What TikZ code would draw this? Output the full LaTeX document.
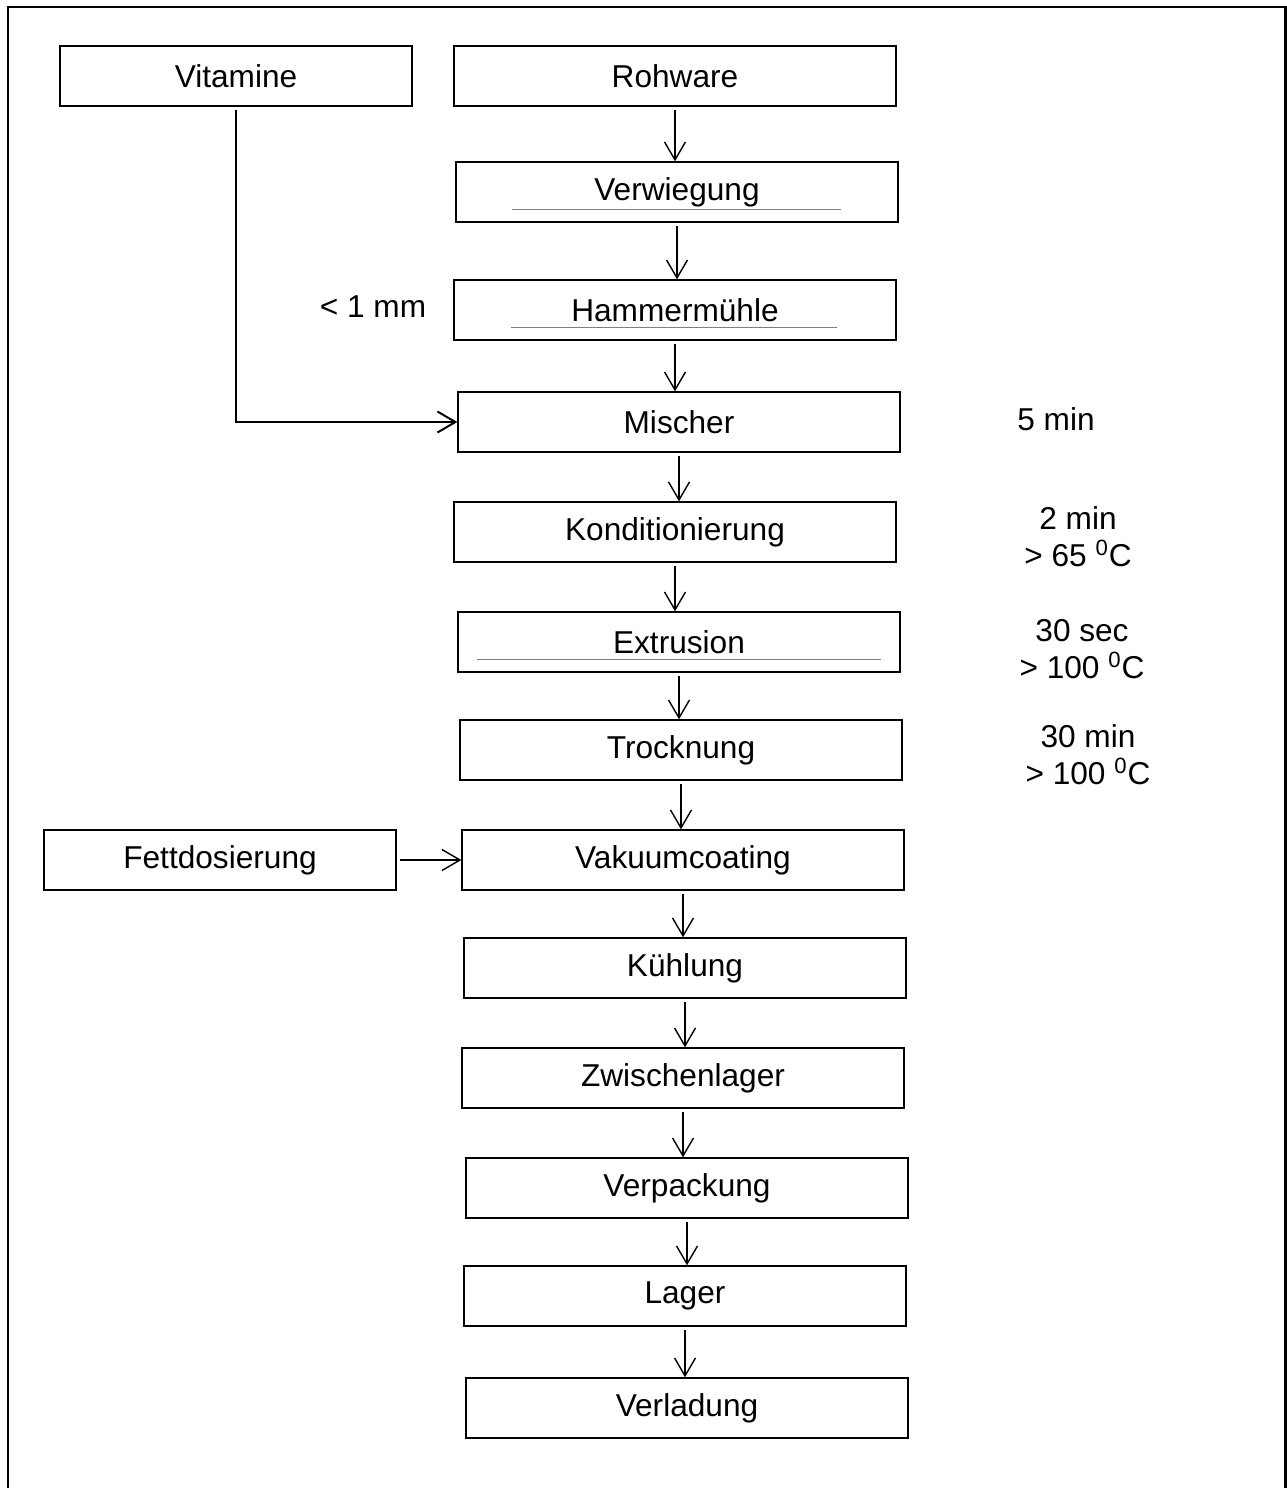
\documentclass[tikz,border=0pt]{standalone}
\usepackage{fontspec}
\setmainfont{Liberation Sans}
\usetikzlibrary{arrows.meta,calc}
\tikzset{
  stepbox/.style={draw,line width=0.8pt,minimum width=8.84cm,minimum height=1.2cm,inner sep=0pt,font=\fontsize{18}{21}\selectfont},
  sidebox/.style={stepbox,minimum width=7.04cm},
  note/.style={align=center,inner sep=0pt,font=\fontsize{18}{21}\selectfont},
  flow/.style={line width=0.8pt,shorten <=0.06cm,-{Straight Barb[length=3.6mm,width=4.2mm]}},
  thinrule/.style={gray,line width=0.5pt}
}
\begin{document}
\begin{tikzpicture}[x=0.02cm,y=-0.02cm]
  \useasboundingbox (0,0) rectangle (1287,1488);
  \draw[line width=1.7pt] (8,1488) -- (8,7) -- (1285,7) -- (1285,1488);

  % side inputs
  \node[sidebox] (vit) at (236,76) {Vitamine};
  \node[sidebox] (fett) at (220,860) {Fettdosierung};

  % main line
  \node[stepbox] (rohware) at (675,76) {Rohware};
  \node[stepbox] (verw) at (677,192) {Verwiegung};
  \node[stepbox] (hammer) at (675,310) {Hammermühle};
  \node[stepbox] (misch) at (679,422) {Mischer};
  \node[stepbox] (kond) at (675,532) {Konditionierung};
  \node[stepbox] (extr) at (679,642) {Extrusion};
  \node[stepbox] (trock) at (681,750) {Trocknung};
  \node[stepbox] (vak) at (683,860) {Vakuumcoating};
  \node[stepbox] (kuehl) at (685,968) {Kühlung};
  \node[stepbox] (zwisch) at (683,1078) {Zwischenlager};
  \node[stepbox] (verp) at (687,1188) {Verpackung};
  \node[stepbox] (lager) at (685,1296) {Lager};
  \node[stepbox] (verl) at (687,1408) {Verladung};

  % process notes
  \node[note] (mm) at (373,307) {< 1 mm};
  \node[note] (tmisch) at (1056,419) {5 min};
  \node[note] (tkond) at (1078,537) {2 min\\> 65 \textsuperscript{0}C};
  \node[note] (textr) at (1082,649) {30 sec\\> 100 \textsuperscript{0}C};
  \node[note] (ttrock) at (1088,755) {30 min\\> 100 \textsuperscript{0}C};

  % thin rules inside boxes
  \draw[thinrule] ($(verw.south west)+(57,-13)$) -- ($(verw.south east)+(-58,-13)$);
  \draw[thinrule] ($(hammer.south west)+(58,-13)$) -- ($(hammer.south east)+(-60,-13)$);
  \draw[thinrule] ($(extr.south west)+(20,-13)$) -- ($(extr.south east)+(-20,-13)$);

  % arrows
  \foreach \a/\b in {rohware/verw,verw/hammer,hammer/misch,misch/kond,kond/extr,extr/trock,
                     trock/vak,vak/kuehl,kuehl/zwisch,zwisch/verp,verp/lager,lager/verl}
    \draw[flow] (\a.south) -- (\a.south |- \b.north);
  \draw[flow,line width=1.1pt] (vit.south) |- (misch.west);
  \draw[flow] (fett.east) -- (vak.west);
\end{tikzpicture}
\end{document}
